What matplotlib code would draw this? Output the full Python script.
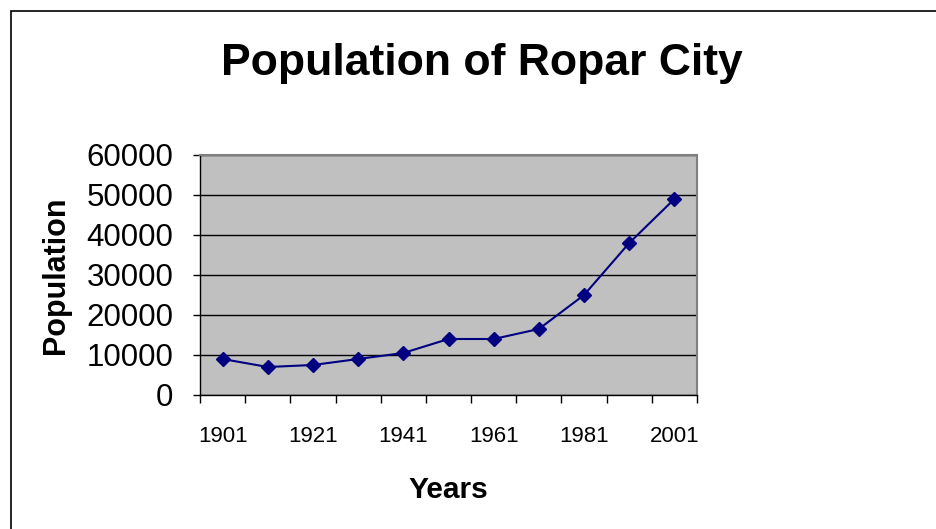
import matplotlib
matplotlib.use("Agg")
import matplotlib.pyplot as plt
from matplotlib.patches import Rectangle
from matplotlib.ticker import FixedLocator, NullFormatter

plt.rcParams["font.family"] = ["Liberation Sans", "DejaVu Sans"]

# Data
years = ["1901", "1911", "1921", "1931", "1941", "1951",
         "1961", "1971", "1981", "1991", "2001"]
population = [9000, 7000, 7500, 9000, 10500, 14000,
              14000, 16500, 25000, 38000, 49000]
y_ticks = [0, 10000, 20000, 30000, 40000, 50000, 60000]

W, H = 937, 529
fig = plt.figure(figsize=(W / 100, H / 100), dpi=100)

# Outer chart frame (only left and top edges visible in the picture)
fig.patches.append(Rectangle((11 / W, -0.2), 1.5, 1.2 - 11 / H,
                             transform=fig.transFigure, fill=False,
                             edgecolor="black", linewidth=1.2))

ax = fig.add_axes([200 / W, (H - 395) / H, (697 - 200) / W, (395 - 155) / H])
ax.set_facecolor("#C0C0C0")

x = list(range(len(years)))
ax.plot(x, population, color="#000080", linewidth=1.5,
        marker="D", markersize=7, markerfacecolor="#000080",
        markeredgecolor="#000080", zorder=3)

ax.set_xlim(-0.5, len(years) - 0.5)
ax.set_ylim(0, 60000)

# categorical axis: labels on every second category, tick marks between categories
ax.set_xticks(x[::2])
ax.set_xticklabels(years[::2])
ax.xaxis.set_minor_locator(FixedLocator([i - 0.5 for i in range(len(years) + 1)]))
ax.xaxis.set_minor_formatter(NullFormatter())
ax.tick_params(axis="x", which="major", length=0, pad=22, labelsize=16)
ax.tick_params(axis="x", which="minor", length=6, width=1, direction="out")

ax.set_yticks(y_ticks)
ax.set_yticklabels([str(v) for v in y_ticks])
ax.tick_params(axis="y", length=5, width=1, direction="out", pad=14, labelsize=22.5)

ax.yaxis.grid(True, color="black", linewidth=1)
ax.set_axisbelow(True)

for side in ("top", "right"):
    ax.spines[side].set_color("#808080")
    ax.spines[side].set_linewidth(1.5)
for side in ("left", "bottom"):
    ax.spines[side].set_color("black")
    ax.spines[side].set_linewidth(1)

ax.set_xlabel("Years", fontsize=21.5, fontweight="bold", labelpad=21)
ax.set_ylabel("Population", fontsize=22, fontweight="bold", labelpad=11)

fig.text(482 / W, 1 - 63 / H, "Population of Ropar City", ha="center", va="center",
         fontsize=32, fontweight="bold")

fig.savefig("out.png", dpi=100)
